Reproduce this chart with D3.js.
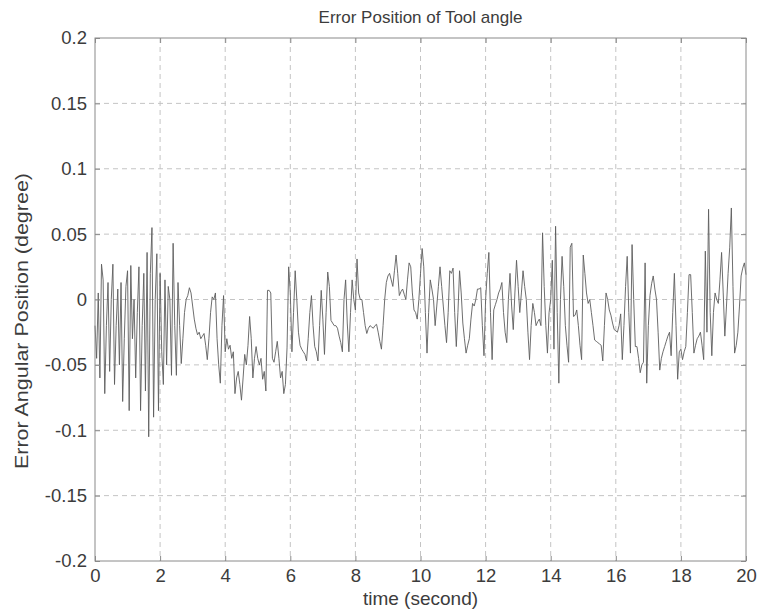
<!DOCTYPE html>
<html>
<head>
<meta charset="utf-8">
<script src="https://cdn.jsdelivr.net/npm/d3@7"></script>
<style>
  html, body { margin: 0; padding: 0; background: #fff; }
  svg { display: block; font-family: "Liberation Sans", Arial, sans-serif; }
</style>
</head>
<body>
<svg id="chart" width="759" height="612"></svg>
<script>
// Angular position error of the tool, sampled every 0.05 s (one row per second)
const sampleStep = 0.05;
const errorDeg = [
  -0.02, -0.045, 0.005, -0.06, 0.027, 0.015, -0.072, -0.02, 0.013, -0.055, 0.0, 0.027, -0.065, -0.02, 0.008, -0.05, 0.013, -0.078, -0.03, 0.01,
  0.022, -0.085, 0.026, -0.03, 0.0, -0.06, -0.01, 0.025, -0.085, -0.02, 0.02, -0.07, 0.036, -0.105, 0.02, 0.055, -0.09, 0.0, 0.035, -0.085,
  0.02, -0.04, -0.065, 0.015, -0.05, 0.01, 0.0, -0.058, 0.043, -0.02, -0.058, 0.013, -0.02, -0.049, -0.03, -0.01, 0.0, 0.003, 0.009, 0.005,
  -0.005, -0.015, -0.022, -0.027, -0.025, -0.03, -0.028, -0.026, -0.035, -0.046, -0.03, -0.01, 0.002, 0.0, 0.005, -0.03, -0.05, -0.064, -0.02, 0.003,
  -0.04, -0.03, -0.038, -0.035, -0.045, -0.04, -0.072, -0.06, -0.055, -0.065, -0.077, -0.06, -0.042, -0.05, -0.035, -0.013, -0.03, -0.06, -0.045, -0.036,
  -0.045, -0.05, -0.045, -0.061, -0.055, -0.07, 0.007, 0.007, 0.005, -0.045, -0.048, -0.04, -0.032, -0.045, -0.06, -0.055, -0.072, -0.065, -0.037, 0.025,
  0.005, -0.04, -0.01, 0.022, 0.0, -0.025, -0.035, -0.038, -0.04, -0.042, -0.047, -0.03, -0.01, 0.003, -0.02, -0.036, -0.04, -0.047, -0.02, 0.007,
  -0.015, -0.042, -0.01, 0.021, 0.01, -0.016, -0.018, -0.02, -0.02, -0.022, -0.028, -0.033, -0.04, 0.0, 0.015, -0.018, -0.04, -0.01, 0.015, 0.0,
  -0.008, 0.031, 0.005, 0.0, 0.0, -0.01, -0.02, -0.026, -0.022, -0.02, -0.021, -0.022, -0.02, -0.019, -0.025, -0.032, -0.038, -0.02, 0.0, 0.013,
  0.018, 0.02, 0.015, 0.01, 0.022, 0.034, 0.02, 0.003, 0.006, 0.008, 0.004, 0.0, 0.015, 0.028, 0.025, 0.005, -0.008, -0.01, -0.015, 0.0,
  0.02, 0.039, 0.025, -0.01, -0.041, -0.01, 0.015, 0.008, 0.0, -0.02, -0.005, 0.01, 0.025, 0.01, -0.005, -0.02, -0.033, -0.01, 0.022, 0.02,
  0.024, -0.01, -0.036, -0.01, 0.022, 0.005, -0.018, -0.03, -0.041, -0.035, -0.03, -0.015, -0.003, -0.005, 0.0, 0.008, 0.008, 0.009, -0.02, -0.043,
  0.0, 0.02, 0.036, -0.01, -0.046, -0.008, -0.004, 0.0, 0.005, 0.008, 0.013, -0.01, -0.025, -0.033, 0.0, 0.02, -0.005, -0.023, 0.005, 0.03,
  0.01, -0.01, 0.005, 0.022, 0.01, 0.0, -0.025, -0.046, -0.02, -0.003, -0.01, -0.02, -0.017, -0.015, -0.02, 0.051, 0.01, -0.02, -0.041, -0.01,
  0.0, 0.03, -0.038, 0.056, -0.01, -0.064, 0.0, 0.033, 0.01, -0.02, -0.035, -0.048, 0.04, 0.043, -0.013, -0.012, -0.008, -0.02, -0.035, -0.046,
  0.034, 0.02, 0.005, -0.003, 0.0, -0.01, -0.02, -0.031, -0.032, -0.033, -0.034, -0.035, -0.047, -0.02, 0.005, 0.0, -0.008, -0.012, -0.018, -0.023,
  -0.024, -0.025, -0.02, -0.011, -0.046, -0.02, 0.01, 0.033, -0.01, -0.041, 0.042, 0.0, -0.036, -0.036, -0.045, -0.056, -0.05, -0.048, 0.028, -0.064,
  -0.02, 0.003, 0.012, 0.018, 0.008, 0.0, -0.025, -0.054, -0.045, -0.04, -0.036, -0.032, -0.028, -0.025, -0.043, -0.01, 0.02, -0.02, -0.061, -0.04,
  -0.038, -0.046, -0.04, -0.036, -0.01, 0.019, 0.019, -0.01, -0.041, -0.035, -0.03, -0.028, -0.025, -0.035, -0.046, 0.037, -0.025, 0.069, -0.01, -0.043,
  -0.01, 0.005, 0.0, -0.003, 0.015, 0.036, 0.005, -0.028, -0.005, 0.02, 0.04, 0.07, 0.01, -0.041, -0.035, -0.025, -0.005, 0.018, 0.024, 0.028,
  0.019
];

const xTicks = [0, 2, 4, 6, 8, 10, 12, 14, 16, 18, 20];
const yTicks = [-0.2, -0.15, -0.1, -0.05, 0, 0.05, 0.1, 0.15, 0.2];
const yTickLabels = ["-0.2", "-0.15", "-0.1", "-0.05", "0", "0.05", "0.1", "0.15", "0.2"];
const xDomain = [0, 20];
const yDomain = [-0.2, 0.2];

const titleText = "Error Position of Tool angle";
const xLabelText = "time (second)";
const yLabelText = "Error Angular Position (degree)";

const margin = { left: 95, right: 13, top: 38, bottom: 51 };
const width = 759, height = 612;
const plotW = width - margin.left - margin.right;
const plotH = height - margin.top - margin.bottom;

const svg = d3.select("#chart");
const g = svg.append("g").attr("transform", `translate(${margin.left},${margin.top})`);

const x = d3.scaleLinear().domain(xDomain).range([0, plotW]);
const y = d3.scaleLinear().domain(yDomain).range([plotH, 0]);

const textColor = "#3c3c3c";
const axisColor = "#8a8a8a";
const gridColor = "#c4c4c4";
const tickFont = "18.5px";

// dashed grid
g.append("g").selectAll("line.vgrid")
  .data(xTicks.slice(1, -1)).join("line")
  .attr("x1", d => x(d)).attr("x2", d => x(d))
  .attr("y1", 0).attr("y2", plotH)
  .attr("stroke", gridColor).attr("stroke-width", 1)
  .attr("stroke-dasharray", "5,4");
g.append("g").selectAll("line.hgrid")
  .data(yTicks.slice(1, -1)).join("line")
  .attr("x1", 0).attr("x2", plotW)
  .attr("y1", d => y(d)).attr("y2", d => y(d))
  .attr("stroke", gridColor).attr("stroke-width", 1)
  .attr("stroke-dasharray", "5,4");

// signal trace
const points = errorDeg.map((v, i) => [i * sampleStep, v]);
const line = d3.line().x(d => x(d[0])).y(d => y(d[1]));
g.append("path")
  .datum(points)
  .attr("fill", "none")
  .attr("stroke", "#5e5e5e")
  .attr("stroke-width", 0.9)
  .attr("stroke-linejoin", "round")
  .attr("d", line);

// axes with inward ticks on all four sides
const tickLen = 5;
const styleAxis = sel => {
  sel.select(".domain").remove();
  sel.selectAll(".tick line").attr("stroke", axisColor);
  sel.selectAll(".tick text").attr("fill", textColor).style("font-size", tickFont);
};

g.append("g").attr("transform", `translate(0,${plotH})`)
  .call(d3.axisBottom(x).tickValues(xTicks).tickFormat(d3.format("d"))
    .tickSizeInner(-tickLen).tickSizeOuter(0).tickPadding(8))
  .call(styleAxis);
g.append("g")
  .call(d3.axisTop(x).tickValues(xTicks).tickFormat("")
    .tickSizeInner(-tickLen).tickSizeOuter(0))
  .call(styleAxis);
g.append("g")
  .call(d3.axisLeft(y).tickValues(yTicks).tickFormat((d, i) => yTickLabels[i])
    .tickSizeInner(-tickLen).tickSizeOuter(0).tickPadding(8))
  .call(styleAxis);
g.append("g").attr("transform", `translate(${plotW},0)`)
  .call(d3.axisRight(y).tickValues(yTicks).tickFormat("")
    .tickSizeInner(-tickLen).tickSizeOuter(0))
  .call(styleAxis);

// frame
g.append("rect")
  .attr("x", 0).attr("y", 0).attr("width", plotW).attr("height", plotH)
  .attr("fill", "none").attr("stroke", axisColor).attr("stroke-width", 1);

// titles
svg.append("text")
  .attr("x", margin.left + plotW / 2).attr("y", 23)
  .attr("text-anchor", "middle").attr("fill", textColor)
  .style("font-size", "17px").text(titleText);
svg.append("text")
  .attr("x", margin.left + plotW / 2).attr("y", 605)
  .attr("text-anchor", "middle").attr("fill", textColor)
  .style("font-size", "19px").text(xLabelText);
// rotated y label, drawn slightly wide along its run
svg.append("text")
  .attr("transform", `translate(28,321) rotate(-90)`)
  .attr("x", -148)
  .attr("textLength", 296)
  .attr("lengthAdjust", "spacingAndGlyphs")
  .attr("fill", textColor)
  .style("font-size", "18px").text(yLabelText);
</script>
</body>
</html>
